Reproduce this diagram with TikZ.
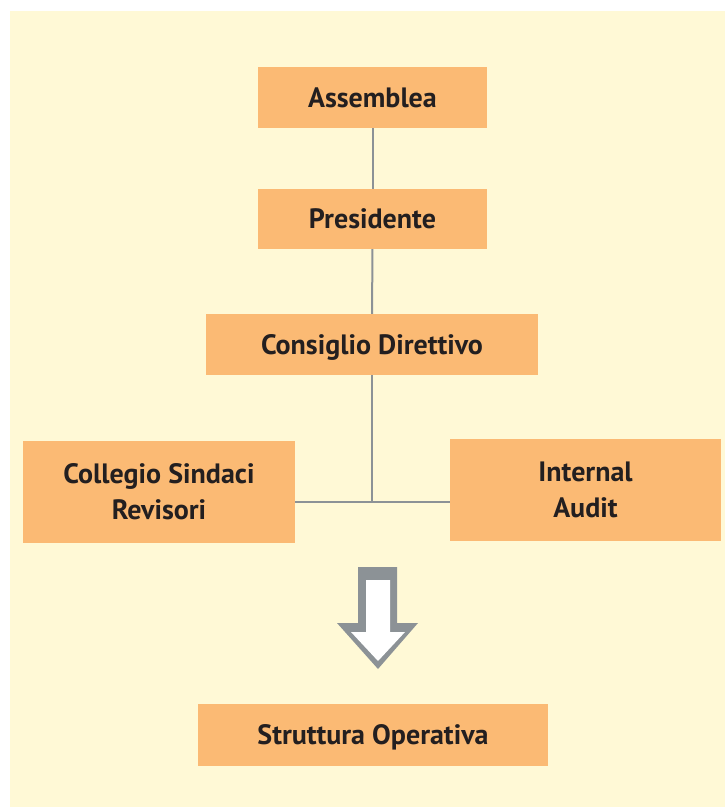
\documentclass[tikz,border=0pt]{standalone}
\usepackage{fontspec}
\setmainfont{PT Sans}
\definecolor{bgyellow}{RGB}{255,249,214}
\definecolor{boxorange}{RGB}{251,186,116}
\definecolor{linegray}{RGB}{140,146,150}
\definecolor{textdark}{RGB}{35,31,32}
\tikzset{
  orgbox/.style={fill=boxorange, text=textdark, inner sep=0pt, align=center,
    font=\bfseries\fontsize{28}{36}\selectfont},
  onerow/.style={orgbox, text height=19.6pt, text depth=0pt},
  orgline/.style={draw=linegray, line width=2pt}
}

\begin{document}
\begin{tikzpicture}[x=1pt, y=-1pt]
			%%%%% START %%%%%
			
			\useasboundingbox (0, 0) rectangle (725, 807);
			\fill[bgyellow] (10, 11) rectangle (725, 807);
			
			\node[onerow, minimum width=229pt, minimum height=61pt] (assemblea) at (372.5, 97.5) {Assemblea};
			\node[onerow, minimum width=229pt, minimum height=60pt] (presidente) at (372.5, 219) {Presidente};
			\node[onerow, minimum width=332pt, minimum height=61pt] (consiglio) at (372, 344.5) {Consiglio Direttivo};
			
			\node[orgbox, minimum width=272pt, minimum height=102pt] (collegio) at (159, 492) {Collegio Sindaci\\Revisori};
			\node[orgbox, minimum width=271pt, minimum height=102pt] (audit) at (585.5, 490) {Internal\\Audit};
			
			\node[onerow, minimum width=350pt, minimum height=62pt] (struttura) at (373, 735) {Struttura Operativa};
			
			\coordinate (snodo) at (372, 502);
			
			\draw[orgline] (assemblea) -- (presidente);
			\draw[orgline] (presidente) -- (consiglio);
			\draw[orgline] (consiglio) -- (snodo);
			\draw[orgline] (collegio.east |- snodo) -- (audit.west |- snodo);
			
			\fill[linegray] (358, 567) -- (397, 567) -- (397, 623) -- (418, 623) -- (378, 669) -- (337, 623) -- (358, 623) -- cycle;
			\fill[white] (366, 580) -- (390, 580) -- (390, 632) -- (405, 632) -- (378, 661) -- (351, 632) -- (366, 632) -- cycle;
			
			%%%%% END %%%%%
\end{tikzpicture}
\end{document}
